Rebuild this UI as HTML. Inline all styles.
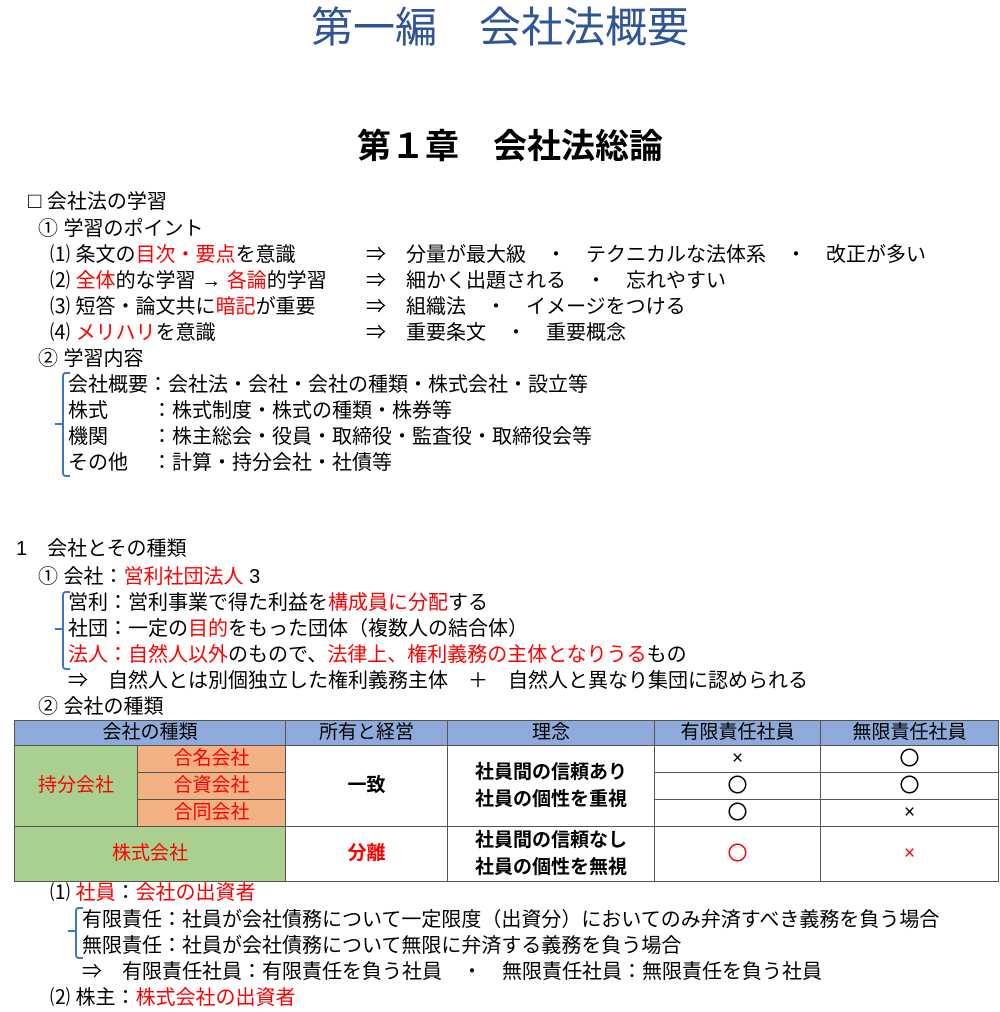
<!DOCTYPE html>
<html><head><meta charset="utf-8"><style>
body{margin:0;width:1000px;height:1012px;position:relative;background:#fff;font-family:"Liberation Sans","Noto Sans CJK JP",sans-serif;color:#000;overflow:hidden}
.t{position:absolute;font-size:20px;line-height:24px;white-space:nowrap}
.r{color:#f00}
.br{position:absolute;border:2px solid #4472c4;border-right:none;width:6px;border-radius:4px 0 0 4px}
.tick{position:absolute;width:8px;height:2px;background:#4472c4}
table{position:absolute;left:14px;top:720px;border-collapse:collapse;font-size:19px}
td{border:1px solid #555;text-align:center;padding:0;line-height:22px}
.c{font-size:20px}
</style></head><body>
<div class="t" style="left:0;width:1000px;text-align:center;top:4px;font-size:42px;line-height:48px;color:#2f5597">第一編　会社法概要</div>
<div class="t" style="left:0;width:1000px;text-align:center;top:127px;font-size:34px;line-height:40px;font-weight:bold;margin-left:10px">第１章　会社法総論</div>

<div class="t" style="left:28px;top:189px"><span style="font-size:22px">□</span> 会社法の学習</div>
<div class="t" style="left:38px;top:217px">① 学習のポイント</div>
<div class="t" style="left:50px;top:243px">⑴ 条文の<span class="r">目次・要点</span>を意識</div>
<div class="t" style="left:50px;top:269px">⑵ <span class="r">全体</span>的な学習 → <span class="r">各論</span>的学習</div>
<div class="t" style="left:50px;top:295px">⑶ 短答・論文共に<span class="r">暗記</span>が重要</div>
<div class="t" style="left:50px;top:321px">⑷ <span class="r">メリハリ</span>を意識</div>
<div class="t" style="left:366px;top:243px">⇒　分量が最大級　・　テクニカルな法体系　・　改正が多い</div>
<div class="t" style="left:366px;top:269px">⇒　細かく出題される　・　忘れやすい</div>
<div class="t" style="left:366px;top:295px">⇒　組織法　・　イメージをつける</div>
<div class="t" style="left:366px;top:321px">⇒　重要条文　・　重要概念</div>
<div class="t" style="left:38px;top:347px">② 学習内容</div>
<div class="br" style="left:62px;top:372px;height:101px"></div><div class="tick" style="left:55px;top:423px"></div>
<div class="t" style="left:68px;top:373px">会社概要：会社法・会社・会社の種類・株式会社・設立等</div>
<div class="t" style="left:68px;top:399px">株式</div><div class="t" style="left:152px;top:399px">：株式制度・株式の種類・株券等</div>
<div class="t" style="left:68px;top:425px">機関</div><div class="t" style="left:152px;top:425px">：株主総会・役員・取締役・監査役・取締役会等</div>
<div class="t" style="left:68px;top:451px">その他</div><div class="t" style="left:152px;top:451px">：計算・持分会社・社債等</div>

<div class="t" style="left:16px;top:537px">1　会社とその種類</div>
<div class="t" style="left:38px;top:565px">① 会社：<span class="r">営利社団法人</span> 3</div>
<div class="br" style="left:62px;top:591px;height:75px"></div><div class="tick" style="left:55px;top:628px"></div>
<div class="t" style="left:68px;top:591px">営利：営利事業で得た利益を<span class="r">構成員に分配</span>する</div>
<div class="t" style="left:68px;top:617px">社団：一定の<span class="r">目的</span>をもった団体（複数人の結合体）</div>
<div class="t" style="left:68px;top:643px"><span class="r">法人：自然人以外</span>のもので、<span class="r">法律上、権利義務の主体となりうる</span>もの</div>
<div class="t" style="left:68px;top:669px">⇒　自然人とは別個独立した権利義務主体　＋　自然人と異なり集団に認められる</div>
<div class="t" style="left:38px;top:695px">② 会社の種類</div>

<table>
<tr style="height:25px;background:#8eaadb"><td colspan="2" style="width:270px">会社の種類</td><td style="width:161px">所有と経営</td><td style="width:206px">理念</td><td style="width:165px">有限責任社員</td><td style="width:177px">無限責任社員</td></tr>
<tr style="height:27px"><td rowspan="3" style="background:#a9d08e;color:#f00;width:122px">持分会社</td><td style="background:#f4b183;color:#f00">合名会社</td><td rowspan="3" style="font-weight:bold">一致</td><td rowspan="3" style="font-weight:bold;line-height:27px">社員間の信頼あり<br>社員の個性を重視</td><td>×</td><td class="c">〇</td></tr>
<tr style="height:27px"><td style="background:#f4b183;color:#f00">合資会社</td><td class="c">〇</td><td class="c">〇</td></tr>
<tr style="height:27px"><td style="background:#f4b183;color:#f00">合同会社</td><td class="c">〇</td><td>×</td></tr>
<tr style="height:53px"><td colspan="2" style="background:#a9d08e;color:#f00">株式会社</td><td style="color:#f00;font-weight:bold">分離</td><td style="font-weight:bold;line-height:27px">社員間の信頼なし<br>社員の個性を無視</td><td class="c" style="color:#f00">〇</td><td style="color:#f00">×</td></tr>
</table>

<div class="t" style="left:50px;top:881px">⑴ <span class="r">社員</span>：<span class="r">会社の出資者</span></div>
<div class="br" style="left:75px;top:907px;height:48px"></div><div class="tick" style="left:68px;top:930px"></div>
<div class="t" style="left:82px;top:908px">有限責任：社員が会社債務について一定限度（出資分）においてのみ弁済すべき義務を負う場合</div>
<div class="t" style="left:82px;top:934px">無限責任：社員が会社債務について無限に弁済する義務を負う場合</div>
<div class="t" style="left:82px;top:960px">⇒　有限責任社員：有限責任を負う社員　・　無限責任社員：無限責任を負う社員</div>
<div class="t" style="left:50px;top:986px">⑵ 株主：<span class="r">株式会社の出資者</span></div>
</body></html>
